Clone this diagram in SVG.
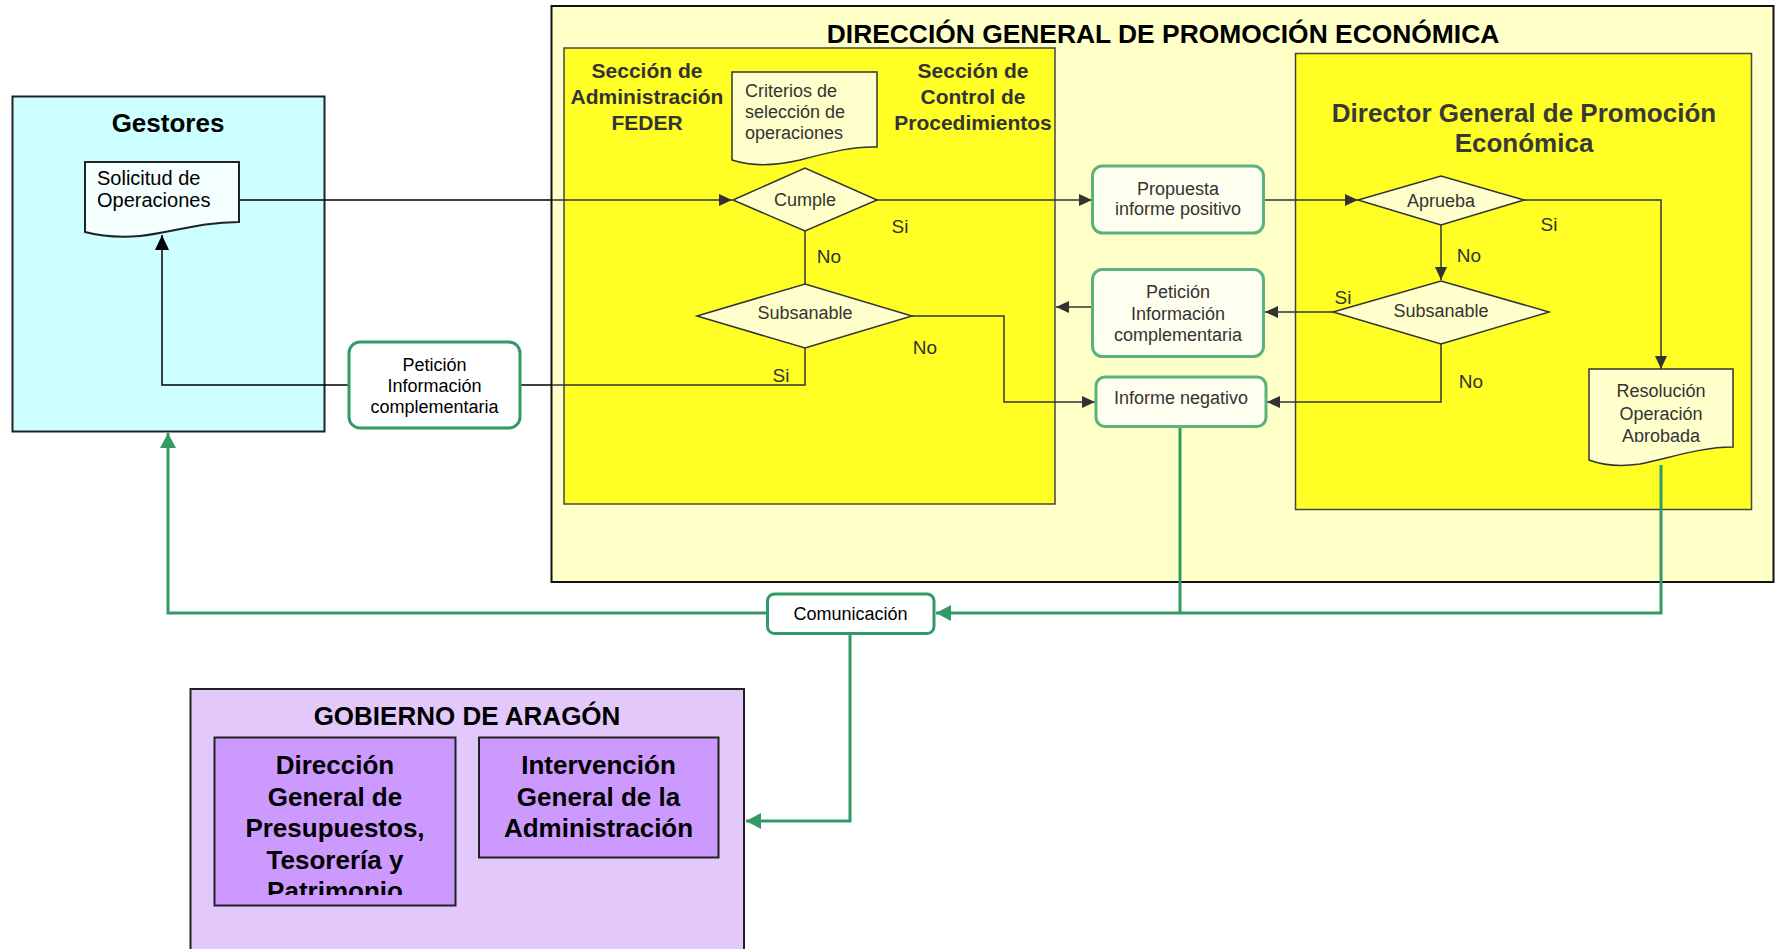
<svg xmlns="http://www.w3.org/2000/svg" width="1780" height="949" viewBox="0 0 1780 949">
<style>
text { font-family: "Liberation Sans", Arial, sans-serif; }
.title { font-size: 26px; font-weight: bold; fill: #000; text-anchor: middle; }
.sec { font-size: 21px; font-weight: bold; fill: #333; text-anchor: middle; }
.dir { font-size: 26px; font-weight: bold; fill: #383838; text-anchor: middle; }
.n { font-size: 18px; fill: #333; text-anchor: middle; }
.nb { font-size: 18px; fill: #000; text-anchor: middle; }
.lbl { font-size: 19px; fill: #333; text-anchor: middle; }
.gob { font-size: 26px; font-weight: bold; fill: #000; text-anchor: middle; }
.dia { fill: #ffffcc; stroke: #333; stroke-width: 1.5; }
.doc { fill: #ffffcc; stroke: #333; stroke-width: 1.5; }
.gbox { fill: #fffff0; stroke: #5ab27f; stroke-width: 3; }
.gbox2 { fill: #ffffff; stroke: #339966; stroke-width: 3; }
.c { fill: none; stroke: #333; stroke-width: 1.5; }
.cb { fill: none; stroke: #000; stroke-width: 1.5; }
.cg { fill: none; stroke: #339966; stroke-width: 3; }
.pb { fill: #cc99ff; stroke: #222; stroke-width: 2; }
</style>
<defs>
<marker id="ad" markerUnits="userSpaceOnUse" markerWidth="14" markerHeight="12" refX="13" refY="6" orient="auto">
<path d="M0,0 L13,6 L0,12 Z" fill="#333"/>
</marker>
<marker id="ab" markerUnits="userSpaceOnUse" markerWidth="16" markerHeight="14" refX="15" refY="7" orient="auto">
<path d="M0,0 L15,7 L0,14 Z" fill="#000"/>
</marker>
<marker id="ag" markerUnits="userSpaceOnUse" markerWidth="16" markerHeight="16" refX="15" refY="8" orient="auto">
<path d="M0,0 L15,8 L0,16 Z" fill="#339966"/>
</marker>
<clipPath id="clipRes"><rect x="1585" y="365" width="152" height="77"/></clipPath>
<clipPath id="clipPat"><rect x="214" y="737" width="242" height="158"/></clipPath>
</defs>

<rect width="1780" height="949" fill="#ffffff"/>

<g id="gestores">
<rect x="12.5" y="96.5" width="312" height="335" fill="#ccffff" stroke="#222" stroke-width="2"/>
<text class="title" x="168" y="132">Gestores</text>
</g>

<g id="dg">
<rect x="551.5" y="6" width="1222" height="576" fill="#ffffc8" stroke="#111" stroke-width="2"/>
<text class="title" x="1163" y="43" style="font-size:26.4px">DIRECCIÓN GENERAL DE PROMOCIÓN ECONÓMICA</text>
</g>

<g id="secciones">
<rect x="564" y="48" width="491" height="456" fill="#ffff26" stroke="#444" stroke-width="1.5"/>
<text class="sec" x="647" y="78">Sección de</text>
<text class="sec" x="647" y="104">Administración</text>
<text class="sec" x="647" y="129.5">FEDER</text>
<text class="sec" x="973" y="78">Sección de</text>
<text class="sec" x="973" y="104">Control de</text>
<text class="sec" x="973" y="129.5">Procedimientos</text>
</g>

<g id="director">
<rect x="1295.5" y="53.5" width="456" height="456" fill="#ffff26" stroke="#444" stroke-width="1.5"/>
<text class="dir" x="1524" y="122">Director General de Promoción</text>
<text class="dir" x="1524" y="152">Económica</text>
</g>

<g id="gobierno">
<rect x="190.5" y="689" width="553.5" height="275" fill="#e2c8fb" stroke="#222" stroke-width="2"/>
<text class="gob" x="467" y="725">GOBIERNO DE ARAGÓN</text>
</g>

<g id="dg-presupuestos">
<rect class="pb" x="214.5" y="737.5" width="241" height="168"/>
<g clip-path="url(#clipPat)">
<text class="gob" x="335" y="774">Dirección</text>
<text class="gob" x="335" y="805.5">General de</text>
<text class="gob" x="335" y="837">Presupuestos,</text>
<text class="gob" x="335" y="868.5">Tesorería y</text>
<text class="gob" x="335" y="900">Patrimonio</text>
</g>
</g>

<g id="intervencion">
<rect class="pb" x="479" y="737.5" width="239.5" height="120"/>
<text class="gob" x="598.5" y="774">Intervención</text>
<text class="gob" x="598.5" y="805.5">General de la</text>
<text class="gob" x="598.5" y="837">Administración</text>
</g>

<g id="connectors">
<path class="cb" d="M239,200 H552"/>
<path class="c" d="M552,200 H732" marker-end="url(#ad)"/>
<path class="c" d="M877,200 H1092" marker-end="url(#ad)"/>
<path class="c" d="M1264,200 H1358" marker-end="url(#ad)"/>
<path class="c" d="M1524,200 H1661 V369" marker-end="url(#ad)"/>
<path class="c" d="M1441,225 V280" marker-end="url(#ad)"/>
<path class="c" d="M1333,312 H1265" marker-end="url(#ad)"/>
<path class="c" d="M1441,344 V402 H1267" marker-end="url(#ad)"/>
<path class="c" d="M1092,307 H1056" marker-end="url(#ad)"/>
<path class="c" d="M805,231 V284"/>
<path class="c" d="M912,316 H1004 V402 H1095" marker-end="url(#ad)"/>
<path class="c" d="M805,348 V385 H552"/>
<path class="cb" d="M552,385 H520"/>
<path class="cb" d="M348,385 H162 V235" marker-end="url(#ab)"/>
<path class="cg" d="M1180,427 V613"/>
<path class="cg" d="M1661,465 V613 H936" marker-end="url(#ag)"/>
<path class="cg" d="M767,613 H168 V433" marker-end="url(#ag)"/>
<path class="cg" d="M850,633 V821 H746" marker-end="url(#ag)"/>
<text class="lbl" x="900" y="233">Si</text>
<text class="lbl" x="829" y="263">No</text>
<text class="lbl" x="925" y="354">No</text>
<text class="lbl" x="781" y="382">Si</text>
<text class="lbl" x="1549" y="231">Si</text>
<text class="lbl" x="1469" y="262">No</text>
<text class="lbl" x="1343" y="304">Si</text>
<text class="lbl" x="1471" y="388">No</text>
</g>

<g id="solicitud">
<path d="M85,162 H239 V222 C200,222 170,233 140,236 C115,238 100,236 85,232 Z" fill="#f4ffff" stroke="#222" stroke-width="2"/>
<text x="97" y="185" font-size="20" fill="#000">Solicitud de</text>
<text x="97" y="207" font-size="20" fill="#000">Operaciones</text>
</g>

<g id="criterios">
<path class="doc" d="M732,72 H877 V147 C855,146 830,152 800,160 C770,167 750,166 732,160 Z"/>
<text x="745" y="97" font-size="18" fill="#333">Criterios de</text>
<text x="745" y="118" font-size="18" fill="#333">selección de</text>
<text x="745" y="139" font-size="18" fill="#333">operaciones</text>
</g>

<g id="cumple">
<path class="dia" d="M733,200 L805,168 L877,200 L805,231 Z"/>
<text class="n" x="805" y="206">Cumple</text>
</g>

<g id="subsanable1">
<path class="dia" d="M697,316 L805,284 L912,316 L805,348 Z"/>
<text class="n" x="805" y="319">Subsanable</text>
</g>

<g id="peticion1">
<rect class="gbox2" x="349" y="342" width="171" height="86" rx="11"/>
<text class="nb" x="434.5" y="371">Petición</text>
<text class="nb" x="434.5" y="392">Información</text>
<text class="nb" x="434.5" y="413">complementaria</text>
</g>

<g id="propuesta">
<rect class="gbox" x="1092.5" y="166" width="171" height="67" rx="10"/>
<text class="n" x="1178" y="195">Propuesta</text>
<text class="n" x="1178" y="215">informe positivo</text>
</g>

<g id="peticion2">
<rect class="gbox" x="1092.5" y="269.5" width="171" height="87" rx="10"/>
<text class="n" x="1178" y="298">Petición</text>
<text class="n" x="1178" y="319.5">Información</text>
<text class="n" x="1178" y="341">complementaria</text>
</g>

<g id="informe-negativo">
<rect class="gbox" x="1096" y="377" width="170" height="49.5" rx="9"/>
<text class="n" x="1181" y="404">Informe negativo</text>
</g>

<g id="aprueba">
<path class="dia" d="M1358,200 L1441,176 L1524,200 L1441,225 Z"/>
<text class="n" x="1441" y="207">Aprueba</text>
</g>

<g id="subsanable2">
<path class="dia" d="M1333,312 L1441,281 L1549,312 L1441,344 Z"/>
<text class="n" x="1441" y="317">Subsanable</text>
</g>

<g id="resolucion">
<path class="doc" d="M1589,369 H1733 V447 C1700,447 1670,458 1640,464 C1620,467 1605,466 1589,460 Z"/>
<g clip-path="url(#clipRes)">
<text class="n" x="1661" y="397">Resolución</text>
<text class="n" x="1661" y="419.5">Operación</text>
<text class="n" x="1661" y="442">Aprobada</text>
</g>
</g>

<g id="comunicacion">
<rect class="gbox2" x="767.5" y="594" width="166.5" height="39.5" rx="7"/>
<text class="nb" x="850.5" y="620">Comunicación</text>
</g>
</svg>
